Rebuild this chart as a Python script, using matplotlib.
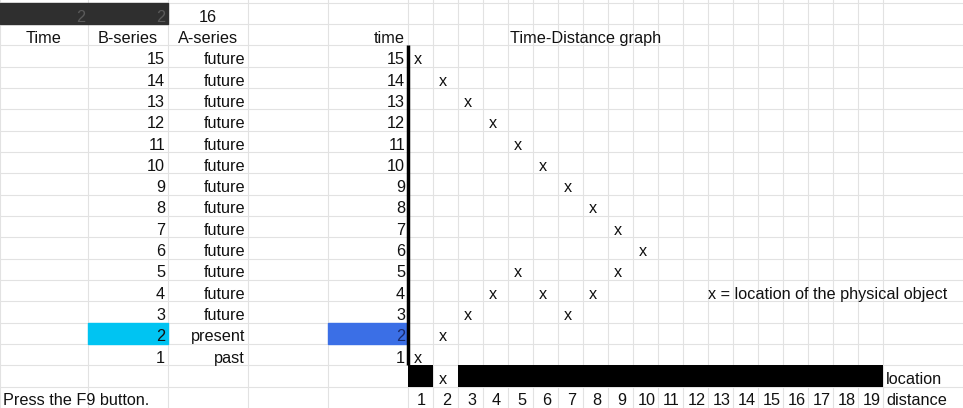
import matplotlib
matplotlib.use('Agg')
import matplotlib.pyplot as plt
from matplotlib.patches import Rectangle

plt.rcParams['font.family'] = ['Liberation Sans', 'DejaVu Sans']

# sheet values
counter = [2, 2, 16]
times = [15, 14, 13, 12, 11, 10, 9, 8, 7, 6, 5, 4, 3, 2, 1]
a_series = ['future'] * 13 + ['present', 'past']
present = 2
positions = {15: [1], 14: [2], 13: [3], 12: [4], 11: [5], 10: [6], 9: [7],
             8: [8], 7: [9], 6: [10], 5: [5, 9], 4: [4, 6, 8], 3: [3, 7],
             2: [2], 1: [1]}
location_now = 2
distances = list(range(1, 20))

# grid layout (pixels)
W, H = 963, 408
ROW_H = 21.33
TOP = 2.7
left_cols = [0, 88, 168, 248, 328, 408]
CW = 25
graph_cols = [408 + CW * i for i in range(len(distances) + 1)]
col_edges = left_cols + graph_cols[1:]

def row_top(r):
    return TOP + r * ROW_H

def row_base(r):
    return TOP + (r + 1) * ROW_H - 2.5

def gx(loc):
    return graph_cols[loc - 1]

FS = 11.7
TXT = '#111111'

fig = plt.figure(figsize=(W / 100, H / 100), dpi=100)
ax = fig.add_axes([0, 0, 1, 1])
ax.set_xlim(0, W)
ax.set_ylim(H, 0)
ax.axis('off')

# grid lines
for i in range(19):
    ax.axhline(row_top(i), color='#e2e2e2', lw=0.8, zorder=1)
for x in col_edges:
    ax.axvline(x, color='#e2e2e2', lw=0.8, zorder=1)

# top counter cells
ax.add_patch(Rectangle((0, row_top(0)), 168, ROW_H, color='#2f2f2f', zorder=2))
ax.text(85, row_base(0), str(counter[0]), ha='right', va='baseline', fontsize=FS, color='#5a5a5a', zorder=3)
ax.text(165, row_base(0), str(counter[1]), ha='right', va='baseline', fontsize=FS, color='#5a5a5a', zorder=3)
ax.text(208, row_base(0), str(counter[2]), ha='center', va='baseline', fontsize=FS, color=TXT, zorder=3)

# headers
ax.text(44, row_base(1), 'Time', ha='center', va='baseline', fontsize=FS, color=TXT)
ax.text(128, row_base(1), 'B-series', ha='center', va='baseline', fontsize=FS, color=TXT)
ax.text(208, row_base(1), 'A-series', ha='center', va='baseline', fontsize=FS, color=TXT)
ax.text(405, row_base(1), 'time', ha='right', va='baseline', fontsize=FS, color=TXT)
ax.text(510, row_base(1), 'Time-Distance graph', ha='left', va='baseline', fontsize=FS, color=TXT)

# table rows and graph
for i, t in enumerate(times):
    r = i + 2
    if t == present:
        ax.add_patch(Rectangle((88, row_top(r)), 80, ROW_H, color='#00c4f2', zorder=2))
        ax.add_patch(Rectangle((328, row_top(r)), 80, ROW_H, color='#3b6fe6', zorder=2))
    ax.text(165, row_base(r), str(t), ha='right', va='baseline', fontsize=FS, color=TXT, zorder=3)
    ax.text(245, row_base(r), a_series[i], ha='right', va='baseline', fontsize=FS, color=TXT, zorder=3)
    ax.text(405, row_base(r), str(t), ha='right', va='baseline', fontsize=FS,
            color='#1a2a6a' if t == present else TXT, zorder=3)
    for loc in positions[t]:
        ax.text(gx(loc) + 10, row_base(r), 'x', ha='center', va='baseline', fontsize=FS, color=TXT, zorder=3)

# time axis
ax.plot([408, 408], [row_top(2), row_top(17)], color='black', lw=2.5, zorder=4, solid_capstyle='butt')

ax.text(708, row_base(13), 'x = location of the physical object', ha='left', va='baseline', fontsize=FS, color=TXT)

# location bar
for d in distances:
    if d != location_now:
        ax.add_patch(Rectangle((gx(d), row_top(17)), CW, ROW_H, color='black', lw=0, zorder=2))
ax.text(gx(location_now) + 10, row_base(17), 'x', ha='center', va='baseline', fontsize=FS, color=TXT, zorder=3)
ax.text(886, row_base(17), 'location', ha='left', va='baseline', fontsize=FS, color=TXT)

# distance axis
for d in distances:
    ax.text(gx(d) + CW / 2 + 1, row_base(18), str(d), ha='center', va='baseline', fontsize=FS, color=TXT)
ax.text(886, row_base(18), 'distance', ha='left', va='baseline', fontsize=FS, color=TXT)
ax.text(3, row_base(18), 'Press the F9 button.', ha='left', va='baseline', fontsize=FS, color=TXT)

fig.savefig('out.png', dpi=100, facecolor='white')
